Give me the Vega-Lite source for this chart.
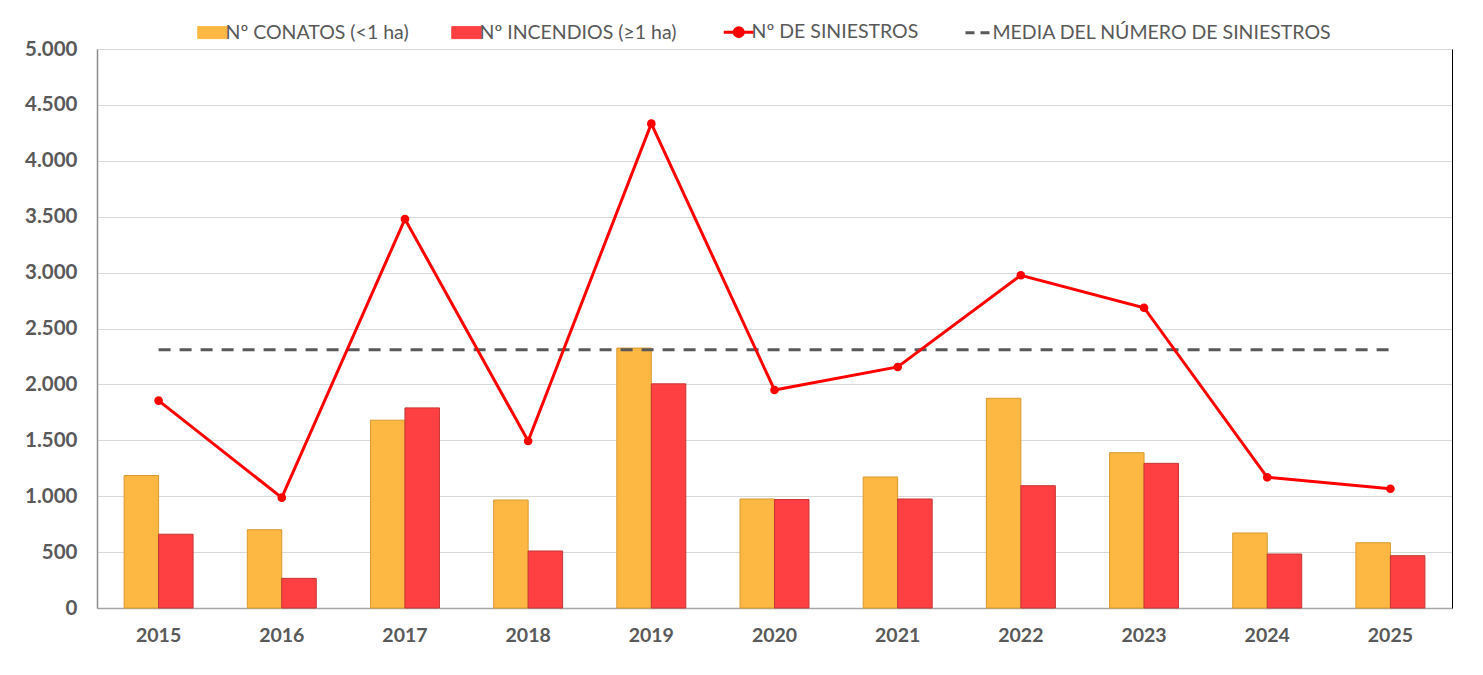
{
  "$schema": "https://vega.github.io/schema/vega-lite/v6.json",
  "width": 1355,
  "height": 559,
  "autosize": {"type": "none"},
  "padding": {"left": 97, "top": 49, "right": 31, "bottom": 67},
  "background": "white",
  "config": {
    "view": {"stroke": null},
    "font": "Lato",
    "axis": {"labelFont": "Lato", "labelColor": "#595959", "labelFontWeight": "bold", "title": null, "ticks": false}
  },
  "datasets": {
    "barras": [
      {"year": "2015", "serie": "Nº CONATOS (<1 ha)", "valor": 1185},
      {"year": "2015", "serie": "Nº INCENDIOS (≥1 ha)", "valor": 660},
      {"year": "2016", "serie": "Nº CONATOS (<1 ha)", "valor": 700},
      {"year": "2016", "serie": "Nº INCENDIOS (≥1 ha)", "valor": 265},
      {"year": "2017", "serie": "Nº CONATOS (<1 ha)", "valor": 1680},
      {"year": "2017", "serie": "Nº INCENDIOS (≥1 ha)", "valor": 1790},
      {"year": "2018", "serie": "Nº CONATOS (<1 ha)", "valor": 966},
      {"year": "2018", "serie": "Nº INCENDIOS (≥1 ha)", "valor": 510},
      {"year": "2019", "serie": "Nº CONATOS (<1 ha)", "valor": 2325},
      {"year": "2019", "serie": "Nº INCENDIOS (≥1 ha)", "valor": 2005},
      {"year": "2020", "serie": "Nº CONATOS (<1 ha)", "valor": 975},
      {"year": "2020", "serie": "Nº INCENDIOS (≥1 ha)", "valor": 970},
      {"year": "2021", "serie": "Nº CONATOS (<1 ha)", "valor": 1172},
      {"year": "2021", "serie": "Nº INCENDIOS (≥1 ha)", "valor": 975},
      {"year": "2022", "serie": "Nº CONATOS (<1 ha)", "valor": 1876},
      {"year": "2022", "serie": "Nº INCENDIOS (≥1 ha)", "valor": 1094},
      {"year": "2023", "serie": "Nº CONATOS (<1 ha)", "valor": 1389},
      {"year": "2023", "serie": "Nº INCENDIOS (≥1 ha)", "valor": 1294},
      {"year": "2024", "serie": "Nº CONATOS (<1 ha)", "valor": 671},
      {"year": "2024", "serie": "Nº INCENDIOS (≥1 ha)", "valor": 483},
      {"year": "2025", "serie": "Nº CONATOS (<1 ha)", "valor": 584},
      {"year": "2025", "serie": "Nº INCENDIOS (≥1 ha)", "valor": 468}
    ],
    "siniestros": [
      {"year": "2015", "valor": 1855},
      {"year": "2016", "valor": 987},
      {"year": "2017", "valor": 3479},
      {"year": "2018", "valor": 1494},
      {"year": "2019", "valor": 4332},
      {"year": "2020", "valor": 1950},
      {"year": "2021", "valor": 2156},
      {"year": "2022", "valor": 2976},
      {"year": "2023", "valor": 2686},
      {"year": "2024", "valor": 1169},
      {"year": "2025", "valor": 1067}
    ],
    "media": [
      {"year": "2015", "valor": 2310},
      {"year": "2016", "valor": 2310},
      {"year": "2017", "valor": 2310},
      {"year": "2018", "valor": 2310},
      {"year": "2019", "valor": 2310},
      {"year": "2020", "valor": 2310},
      {"year": "2021", "valor": 2310},
      {"year": "2022", "valor": 2310},
      {"year": "2023", "valor": 2310},
      {"year": "2024", "valor": 2310},
      {"year": "2025", "valor": 2310}
    ]
  },
  "layer": [
    {
      "data": {"name": "barras"},
      "mark": {"type": "bar", "strokeWidth": 1},
      "encoding": {
        "x": {
          "field": "year", "type": "nominal",
          "scale": {"paddingInner": 0.44, "paddingOuter": 0.22},
          "axis": {"labelAngle": 0, "labelFontSize": 19.5, "labelPadding": 18, "domainColor": "#A6A6A6", "domainWidth": 1.5}
        },
        "xOffset": {"field": "serie", "type": "nominal", "scale": {"domain": ["Nº CONATOS (<1 ha)", "Nº INCENDIOS (≥1 ha)"]}},
        "y": {
          "field": "valor", "type": "quantitative",
          "scale": {"domain": [0, 5000], "nice": false},
          "axis": {
            "values": [0, 500, 1000, 1500, 2000, 2500, 3000, 3500, 4000, 4500, 5000],
            "labelExpr": "replace(format(datum.value, ','), ',', '.')",
            "labelFontSize": 20.5, "labelPadding": 20,
            "gridColor": "#D9D9D9", "domainColor": "#8C8C8C", "domainWidth": 1.5
          }
        },
        "color": {
          "field": "serie", "type": "nominal",
          "scale": {
            "domain": ["Nº CONATOS (<1 ha)", "Nº INCENDIOS (≥1 ha)", "Nº DE SINIESTROS", "MEDIA DEL NÚMERO DE SINIESTROS"],
            "range": ["#FDB843", "#FF4042", "#FF0000", "#595959"]
          },
          "legend": {
            "title": null,
            "orient": "none",
            "direction": "horizontal",
            "legendX": 106,
            "legendY": -27,
            "padding": 0,
            "columnPadding": 40,
            "labelFont": "Lato",
            "labelFontSize": 19.5,
            "labelColor": "#595959",
            "labelOffset": 3,
            "labelLimit": 600,
            "symbolSize": 900,
            "encode": {
              "symbols": {
                "update": {
                  "shape": {"signal": "datum.value === 'Nº DE SINIESTROS' ? 'M-1,0H1M-0.3,0A0.3,0.3,0,1,1,0.3,0A0.3,0.3,0,1,1,-0.3,0Z' : (datum.value === 'MEDIA DEL NÚMERO DE SINIESTROS' ? 'M-0.95,0H-0.35M0.05,0H0.65' : 'M-1,-0.4H1V0.4H-1Z')"},
                  "fill": {"signal": "datum.value === 'MEDIA DEL NÚMERO DE SINIESTROS' ? 'transparent' : scale('color', datum.value)"},
                  "stroke": {"signal": "datum.value === 'Nº CONATOS (<1 ha)' ? '#D99A2E' : (datum.value === 'Nº INCENDIOS (≥1 ha)' ? '#C83434' : scale('color', datum.value))"},
                  "strokeWidth": {"signal": "datum.value === 'Nº DE SINIESTROS' || datum.value === 'MEDIA DEL NÚMERO DE SINIESTROS' ? 3 : 1"},
                  "size": {"value": 900},
                  "opacity": {"value": 1}
                }
              }
            }
          }
        },
        "stroke": {
          "field": "serie", "type": "nominal",
          "scale": {"domain": ["Nº CONATOS (<1 ha)", "Nº INCENDIOS (≥1 ha)"], "range": ["#D99A2E", "#C83434"]},
          "legend": null
        }
      }
    },
    {
      "data": {"name": "media"},
      "mark": {"type": "line", "strokeWidth": 3, "strokeDash": [12, 9]},
      "encoding": {
        "x": {"field": "year", "type": "nominal"},
        "y": {"field": "valor", "type": "quantitative", "axis": null},
        "color": {"datum": "MEDIA DEL NÚMERO DE SINIESTROS"}
      }
    },
    {
      "data": {"name": "siniestros"},
      "mark": {"type": "line", "strokeWidth": 3, "point": {"filled": true, "size": 75}},
      "encoding": {
        "x": {"field": "year", "type": "nominal"},
        "y": {
          "field": "valor", "type": "quantitative",
          "axis": {"orient": "right", "labels": false, "grid": false, "domainColor": "#000000", "domainWidth": 1}
        },
        "color": {"datum": "Nº DE SINIESTROS"}
      }
    }
  ],
  "resolve": {"axis": {"y": "independent"}}
}
